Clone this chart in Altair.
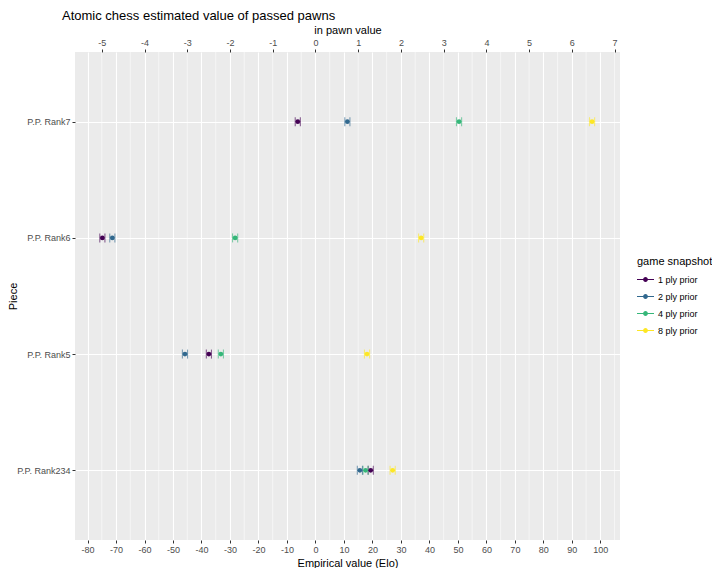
import altair as alt
import pandas as pd

pieces = ["P.P. Rank7", "P.P. Rank6", "P.P. Rank5", "P.P. Rank234"]
snapshots = ["1 ply prior", "2 ply prior", "4 ply prior", "8 ply prior"]
colors = ["#440154", "#31688E", "#35B779", "#FDE725"]

# Elo estimates per snapshot, in the order of `pieces`
elo_1ply = [-6.2, -74.8, -37.4, 19.4]
elo_2ply = [11.2, -71.3, -45.8, 15.6]
elo_4ply = [50.4, -28.2, -33.2, 17.6]
elo_8ply = [97.1, 37.1, 18.1, 27.1]
# half-width of error bars (Elo)
err_1ply = [0.9, 0.9, 0.9, 0.9]
err_2ply = [0.9, 0.9, 0.9, 0.9]
err_4ply = [0.9, 0.9, 0.9, 0.9]
err_8ply = [0.9, 0.9, 0.9, 0.9]

bottom_ticks = [-80, -70, -60, -50, -40, -30, -20, -10, 0, 10, 20, 30, 40, 50, 60, 70, 80, 90, 100]
minor_grid = [-75, -65, -55, -45, -35, -25, -15, -5, 5, 15, 25, 35, 45, 55, 65, 75, 85, 95, 105]
top_ticks_pawn = [-5, -4, -3, -2, -1, 0, 1, 2, 3, 4, 5, 6, 7]
elo_per_pawn = 15
x_domain = [-84.4, 106.9]

rows = []
for snap, vals, errs in zip(snapshots, [elo_1ply, elo_2ply, elo_4ply, elo_8ply],
                            [err_1ply, err_2ply, err_4ply, err_8ply]):
    for p, v, e in zip(pieces, vals, errs):
        rows.append({"piece": p, "snapshot": snap, "elo": v, "lo": v - e, "hi": v + e})
df = pd.DataFrame(rows)
grid_df = pd.DataFrame({"g": minor_grid})

FONT = "Liberation Sans"
xs = alt.Scale(domain=x_domain, nice=False, zero=False)
xa = alt.Axis(values=bottom_ticks, labelExpr="'' + datum.value", title="Empirical value (Elo)",
              orient="bottom", grid=True, gridColor="white", gridWidth=1.1,
              domain=False, tickColor="#333333", tickWidth=1, tickSize=3,
              labelColor="#4D4D4D", labelFontSize=9, labelPadding=2,
              titleFontSize=11, titleColor="black", titleFontWeight="normal", titlePadding=3)
ys = alt.Scale(type="point", padding=0.6)
ya = alt.Axis(title="Piece", grid=True, gridColor="white", gridWidth=1.1,
              domain=False, tickColor="#333333", tickWidth=1, tickSize=3,
              labelColor="#4D4D4D", labelFontSize=9, labelPadding=2,
              titleFontSize=11, titleColor="black", titleFontWeight="normal", titleX=-57)
y_enc = alt.Y("piece:N", sort=pieces, scale=ys, axis=ya)
cscale = alt.Scale(domain=snapshots, range=colors)

sym = ("M-1,-0.07L1,-0.07L1,0.07L-1,0.07Z "
       "M0.28,0A0.28,0.28 0 1,1 -0.28,0A0.28,0.28 0 1,1 0.28,0Z")
leg = alt.Legend(title="game snapshot", orient="none", legendX=562, legendY=204,
                 symbolType=sym, symbolSize=289, symbolStrokeWidth=0,
                 symbolOpacity=1, labelFontSize=9, titleFontSize=11,
                 titleFontWeight="normal", rowPadding=3, titlePadding=4,
                 labelOffset=4, labelColor="black", titleColor="black")
color_enc = alt.Color("snapshot:N", scale=cscale, legend=leg)

base = alt.Chart(df)

grid = alt.Chart(grid_df).mark_rule(color="white", strokeWidth=0.55).encode(
    x=alt.X("g:Q", scale=xs, axis=None))

bar = base.mark_rule(strokeWidth=1.1, opacity=0.6).encode(
    x=alt.X("lo:Q", scale=xs, axis=xa), x2="hi:Q", y=y_enc, color=color_enc)
cap_lo = base.mark_tick(thickness=1.1, size=9, opacity=0.6).encode(
    x=alt.X("lo:Q", scale=xs, axis=xa), y=y_enc, color=color_enc)
cap_hi = base.mark_tick(thickness=1.1, size=9, opacity=0.6).encode(
    x=alt.X("hi:Q", scale=xs, axis=xa), y=y_enc, color=color_enc)
pts = base.mark_circle(size=22, opacity=1).encode(
    x=alt.X("elo:Q", scale=xs, axis=xa), y=y_enc, color=color_enc)
main = alt.layer(bar, cap_lo, cap_hi, pts)

top_axis = alt.Axis(values=[p * elo_per_pawn for p in top_ticks_pawn],
                    labelExpr="'' + (datum.value / %d)" % elo_per_pawn,
                    title="in pawn value", orient="top", grid=False, domain=False,
                    tickColor="#333333", tickWidth=1, tickSize=3,
                    labelColor="#4D4D4D", labelFontSize=9, labelPadding=2,
                    titleFontSize=11, titleColor="black", titleFontWeight="normal", titlePadding=3)
top = base.mark_point(opacity=0).encode(x=alt.X("elo:Q", scale=xs, axis=top_axis))

chart = alt.layer(grid, main, top).resolve_scale(x="independent").properties(
    width=545, height=488,
    autosize=alt.AutoSizeParams(type="none"),
    padding={"left": 67, "top": 44, "right": 92, "bottom": 28},
    title=alt.TitleParams("Atomic chess estimated value of passed pawns", anchor="start",
                          frame="group", dx=-13, offset=1, fontSize=13, fontWeight="normal",
                          font=FONT, color="black"),
).configure_view(fill="#EBEBEB", stroke=None).configure_axis(
    labelFont=FONT, titleFont=FONT).configure_legend(labelFont=FONT, titleFont=FONT)

chart.save("out.html", embed_options={"renderer": "svg", "actions": False})
